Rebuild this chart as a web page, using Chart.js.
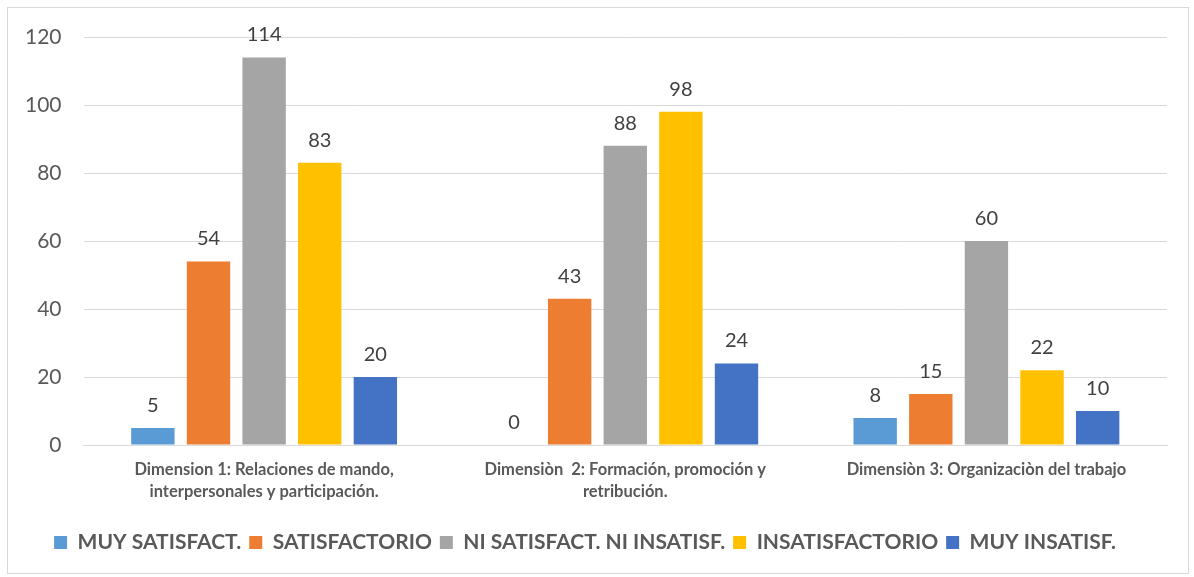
<!DOCTYPE html>
<html>
<head>
<meta charset="utf-8">
<script src="https://cdn.jsdelivr.net/npm/chart.js@4/dist/chart.umd.min.js"></script>
<style>
  html, body { margin: 0; padding: 0; background: #fff; }
  .frame { position: absolute; left: 7px; top: 7px; width: 1182px; height: 567px; border: 1px solid #d9d9d9; box-sizing: border-box; }
  .wrap { position: absolute; left: 0; top: 0; width: 1194px; height: 577px; }
</style>
</head>
<body>
<div class="frame"></div>
<div class="wrap"><canvas id="chart" width="1194" height="577"></canvas></div>
<script>
// categories
const categories = [
  ["Dimension 1: Relaciones de mando,", "interpersonales y participación."],
  ["Dimensiòn  2: Formación, promoción y", "retribución."],
  "Dimensiòn 3: Organizaciòn del trabajo"
];
const seriesNames = ["MUY SATISFACT.", "SATISFACTORIO", "NI SATISFACT. NI INSATISF.", "INSATISFACTORIO", "MUY INSATISF."];
const seriesColors = ["#5b9bd5", "#ed7d31", "#a5a5a5", "#ffc000", "#4472c4"];

// values per series (one per category)
const muySatisfact = [5, 0, 8];
const satisfactorio = [54, 43, 15];
const niNi = [114, 88, 60];
const insatisfactorio = [83, 98, 22];
const muyInsatisf = [20, 24, 10];

const yTicks = [0, 20, 40, 60, 80, 100, 120];

const allValues = [muySatisfact, satisfactorio, niNi, insatisfactorio, muyInsatisf];

const fontFam = "Lato, 'Open Sans', sans-serif";

// draw the value over every bar
const valueLabels = {
  id: "valueLabels",
  afterDatasetsDraw(chart) {
    const ctx = chart.ctx;
    ctx.save();
    ctx.font = "20px " + fontFam;
    ctx.fillStyle = "#404040";
    ctx.textAlign = "center";
    ctx.textBaseline = "alphabetic";
    chart.data.datasets.forEach((ds, i) => {
      chart.getDatasetMeta(i).data.forEach((bar, j) => {
        ctx.fillText(String(ds.data[j]), bar.x, bar.y - 16);
      });
    });
    ctx.restore();
  }
};

new Chart("chart", {
  type: "bar",
  data: {
    labels: categories,
    datasets: seriesNames.map((name, i) => ({
      label: name,
      data: allValues[i],
      backgroundColor: seriesColors[i],
      categoryPercentage: 0.77,
      barPercentage: 0.78
    }))
  },
  options: {
    responsive: false,
    animation: false,
    layout: { padding: { left: 3, right: 27, top: 37, bottom: 14 } },
    plugins: {
      legend: {
        position: "bottom",
        labels: {
          boxWidth: 13,
          boxHeight: 13,
          padding: 8,
          color: "#595959",
          font: { family: fontFam, size: 21, weight: "bold" }
        }
      },
      tooltip: { enabled: false }
    },
    scales: {
      x: {
        grid: { display: false },
        border: { color: "#d9d9d9" },
        afterFit: (axis) => { axis.height += 15; },
        ticks: {
          color: "#595959",
          padding: 6,
          maxRotation: 0,
          font: { family: fontFam, size: 16.5, weight: "bold", lineHeight: 1.33 }
        }
      },
      y: {
        min: 0,
        max: 120,
        afterBuildTicks: (axis) => { axis.ticks = yTicks.map(v => ({ value: v })); },
        grid: { color: "#d9d9d9", drawTicks: false },
        border: { display: false },
        ticks: {
          color: "#595959",
          padding: 22,
          font: { family: fontFam, size: 21 }
        }
      }
    }
  },
  plugins: [valueLabels]
});
</script>
</body>
</html>
